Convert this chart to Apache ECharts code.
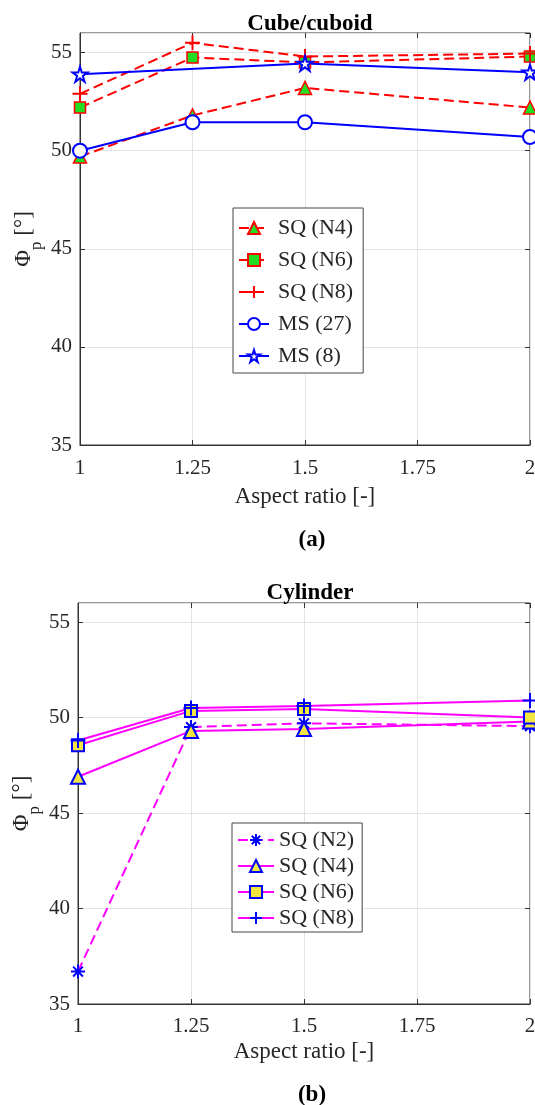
<!DOCTYPE html>
<html>
<head>
<meta charset="utf-8">
<script src="https://cdn.jsdelivr.net/npm/echarts@6/dist/echarts.min.js"></script>
<style>
  html, body { margin: 0; padding: 0; background: #fff; }
  #c1 { position: absolute; left: 0; top: 0; width: 535px; height: 552px; }
  #c2 { position: absolute; left: 0; top: 552px; width: 535px; height: 553px; }
</style>
</head>
<body>
<div id="c1"></div>
<div id="c2"></div>
<script>
// ---- data ----
const aspectRatio = [1, 1.25, 1.5, 2];
const xTicks = [1, 1.25, 1.5, 1.75, 2];
const yTicks = [35, 40, 45, 50, 55];

// (a) Cube/cuboid
const cubeSQ_N4 = [49.7, 51.8, 53.2, 52.2];
const cubeSQ_N6 = [52.2, 54.75, 54.5, 54.8];
const cubeSQ_N8 = [52.9, 55.5, 54.8, 54.95];
const cubeMS_27 = [50.0, 51.45, 51.45, 50.7];
const cubeMS_8  = [53.9, null, 54.45, 54.0];

// (b) Cylinder
const cylSQ_N2 = [36.7, 49.5, 49.7, 49.55];
const cylSQ_N4 = [46.9, 49.3, 49.4, 49.8];
const cylSQ_N6 = [48.55, 50.35, 50.45, 50.0];
const cylSQ_N8 = [48.8, 50.5, 50.6, 50.9];

// ---- style helpers ----
const FONT = '"Liberation Serif", "Times New Roman", serif';
const TXT = '#262626';
const PLUS = 'path://M0,-10L0,10M-10,0L10,0';
const ASTER = 'path://M0,-10L0,10M-10,0L10,0M-7,-7L7,7M-7,7L7,-7';
const STAR = 'path://M0,-100L22.5,-30.9L95.1,-30.9L36.3,11.8L58.8,80.9L0,38.2L-58.8,80.9L-36.3,11.8L-95.1,-30.9L-22.5,-30.9Z';

function pairs(vals) { return aspectRatio.map((x, i) => [x, vals[i]]); }

function axes(gridTop, gridBottom, gridLeft, labelMargin, nameGap) {
  return {
    grid: { left: gridLeft, right: 5, top: gridTop, bottom: gridBottom, containLabel: false, outerBoundsMode: 'none',
            show: true, borderColor: '#333', borderWidth: 1, backgroundColor: '#fff' },
    xAxis: [{
      type: 'value', min: xTicks[0], max: xTicks[xTicks.length - 1], interval: 0.25,
      name: 'Aspect ratio [-]', nameLocation: 'middle', nameGap: nameGap, nameMoveOverlap: false,
      nameTextStyle: { fontFamily: FONT, fontSize: 23, color: TXT },
      axisLine: { show: true, lineStyle: { color: '#333', width: 1 } },
      axisTick: { show: true, inside: true, length: 5, lineStyle: { color: '#333' } },
      axisLabel: { fontFamily: FONT, fontSize: 21, color: TXT, margin: labelMargin, formatter: v => String(v) },
      splitLine: { show: true, lineStyle: { color: '#e3e3e3', width: 1 } }
    }, {
      type: 'value', position: 'top', min: xTicks[0], max: xTicks[xTicks.length - 1], interval: 0.25,
      axisLine: { show: false }, axisLabel: { show: false }, splitLine: { show: false },
      axisTick: { show: true, inside: true, length: 5, lineStyle: { color: '#333' } }
    }],
    yAxis: [{
      type: 'value', min: yTicks[0], max: 56, interval: 5,
      name: '{a|Φ}{s|p}{a| [°]}', nameLocation: 'middle', nameRotate: 90, nameGap: 18, nameMoveOverlap: false,
      nameTextStyle: {
        fontFamily: FONT, color: TXT,
        rich: {
          a: { fontFamily: FONT, fontSize: 23, color: TXT, lineHeight: 24, verticalAlign: 'top' },
          s: { fontFamily: FONT, fontSize: 17, color: TXT, lineHeight: 50, verticalAlign: 'middle' }
        }
      },
      axisLine: { show: true, lineStyle: { color: '#333', width: 1 } },
      axisTick: { show: true, inside: true, length: 5, lineStyle: { color: '#333' } },
      axisLabel: { fontFamily: FONT, fontSize: 21, color: TXT, margin: 8, showMaxLabel: false },
      splitLine: { show: true, lineStyle: { color: '#e3e3e3', width: 1 } }
    }, {
      type: 'value', position: 'right', min: yTicks[0], max: 56, interval: 5,
      axisLine: { show: false }, axisLabel: { show: false }, splitLine: { show: false },
      axisTick: { show: true, inside: true, length: 5, lineStyle: { color: '#333' } }
    }]
  };
}

function series(name, vals, symbol, size, lineColor, lineType, fill, edge, edgeW) {
  return {
    type: 'line', name: name, data: pairs(vals), connectNulls: true,
    symbol: symbol, symbolSize: size, showSymbol: true, showAllSymbol: true,
    lineStyle: { color: lineColor, width: 2, type: lineType },
    itemStyle: { color: fill, borderColor: edge, borderWidth: edgeW },
    emphasis: { disabled: true }, z: 3
  };
}

// ---- chart (a) ----
const RED = '#ff0000', BLUE = '#0000ff', GREEN = '#22dd22', MAG = '#ff00ff', YEL = '#f2e640';
const DASH = [10, 5];
const c1 = echarts.init(document.getElementById('c1'), null, { renderer: 'canvas' });
const o1 = axes(33, 107, 80, 13, 40);
o1.animation = false;
o1.title = [
  { text: 'Cube/cuboid', left: 305, top: 8, textAlign: 'center', textStyle: { fontFamily: FONT, fontSize: 23, fontWeight: 'bold', color: '#000' } },
  { text: '(a)', left: 307, top: 524, textAlign: 'center', textStyle: { fontFamily: FONT, fontSize: 23, fontWeight: 'bold', color: '#000' } }
];
o1.legend = {
  orient: 'vertical', left: 233, top: 208, width: 125,
  backgroundColor: '#fff', borderColor: '#444', borderWidth: 1,
  padding: [9, 10, 6, 5], itemGap: 10, itemWidth: 30, itemHeight: 15,
  textStyle: { fontFamily: FONT, fontSize: 22, color: TXT, padding: [0, 0, 0, 4] },
  data: ['SQ (N4)', 'SQ (N6)', 'SQ (N8)', 'MS (27)', 'MS (8)']
};
o1.series = [
  series('SQ (N4)', cubeSQ_N4, 'triangle', 13, RED, DASH, GREEN, RED, 1.5),
  series('SQ (N6)', cubeSQ_N6, 'rect', 11, RED, DASH, GREEN, RED, 1.5),
  series('SQ (N8)', cubeSQ_N8, PLUS, 15, RED, DASH, RED, RED, 2),
  series('MS (27)', cubeMS_27, 'circle', 14, BLUE, 'solid', '#fff', BLUE, 2),
  series('MS (8)', cubeMS_8, STAR, 15, BLUE, 'solid', '#fff', BLUE, 2)
];
c1.setOption(o1);

// ---- chart (b) ----
const c2 = echarts.init(document.getElementById('c2'), null, { renderer: 'canvas' });
const o2 = axes(51, 101, 78, 12, 36);
o2.animation = false;
o2.title = [
  { text: 'Cylinder', left: 305, top: 25, textAlign: 'center', textStyle: { fontFamily: FONT, fontSize: 23, fontWeight: 'bold', color: '#000' } },
  { text: '(b)', left: 307, top: 527, textAlign: 'center', textStyle: { fontFamily: FONT, fontSize: 23, fontWeight: 'bold', color: '#000' } }
];
o2.legend = {
  orient: 'vertical', left: 232, top: 271, width: 126,
  backgroundColor: '#fff', borderColor: '#444', borderWidth: 1,
  padding: [6, 8, 3, 5], itemGap: 4, itemWidth: 36, itemHeight: 15,
  textStyle: { fontFamily: FONT, fontSize: 22, color: TXT },
  data: ['SQ (N2)', 'SQ (N4)', 'SQ (N6)', 'SQ (N8)']
};
o2.series = [
  series('SQ (N2)', cylSQ_N2, ASTER, 14, MAG, DASH, BLUE, BLUE, 2),
  series('SQ (N4)', cylSQ_N4, 'triangle', 14, MAG, 'solid', YEL, BLUE, 2),
  series('SQ (N6)', cylSQ_N6, 'rect', 12, MAG, 'solid', YEL, BLUE, 2),
  series('SQ (N8)', cylSQ_N8, PLUS, 15, MAG, 'solid', BLUE, BLUE, 2)
];
c2.setOption(o2);
</script>
</body>
</html>
